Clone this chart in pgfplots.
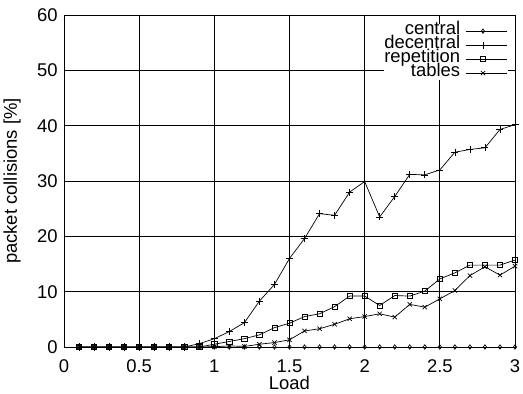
\documentclass[border=0pt]{standalone}
\usepackage{pgfplots}
\usepackage{pgfplotstable}
\pgfplotsset{compat=1.18}
\usepackage{fontspec}
\setmainfont{Liberation Sans}
\pgfplotstableread{
x    c   d     r     t
0.1  0   0     0     0
0.2  0   0     0     0
0.3  0   0     0     0
0.4  0   0     0     0
0.5  0   0     0     0
0.6  0   0     0     0
0.7  0   0     0     0
0.8  0   0     0     0
0.9  0   0.6   0     0
1.0  0   1.5   0.5   0.05
1.1  0   2.8   1.0   0.2
1.2  0   4.4   1.5   0.1
1.3  0   8.3   2.2   0.5
1.4  0   11.3  3.5   0.8
1.5  0   16.0  4.3   1.3
1.6  0   19.6  5.5   2.9
1.7  0   24.1  6.0   3.3
1.8  0   23.8  7.3   4.1
1.9  0   28.0  9.2   5.1
2.0  0   29.9  9.2   5.5
2.1  0   23.5  7.5   6.0
2.2  0   27.2  9.3   5.4
2.3  0   31.2  9.2   7.7
2.4  0   31.1  10.1  7.2
2.5  0   32.0  12.3  8.7
2.6  0   35.2  13.4  10.2
2.7  0   35.7  14.8  12.9
2.8  0   36.0  14.8  14.5
2.9  0   39.3  14.8  13.0
3.0  0   40.2  15.7  14.6
}\data
\begin{document}
\fontsize{18.5}{20}\selectfont
\begin{tikzpicture}
\useasboundingbox (-64bp,-47bp) rectangle (459bp,347bp);
\begin{axis}[
  scale only axis,
  width=451bp, height=332bp,
  xmin=0, xmax=3, ymin=0, ymax=60,
  xtick={0,0.5,...,3}, ytick={0,10,...,60},
  xticklabels={0,0.5,1,1.5,2,2.5,3},
  grid=major,
  major grid style={black, line width=0.9bp},
  axis line style={black, line width=0.9bp},
  tick style={black, line width=0.9bp},
  tick align=inside,
  /pgf/number format/assume math mode=true,
  ticklabel style={font=\fontsize{18.5}{20}\selectfont},
  xticklabel style={yshift=-6bp},
  label style={font=\fontsize{18.5}{20}\selectfont},
  xlabel={Load},
  ylabel={packet collisions [\%]},
  xlabel style={at={([yshift=-36bp]axis description cs:0.5,0)}, anchor=center},
  ylabel style={at={([xshift=-52bp]axis description cs:0,0.5)}, anchor=center},
  legend plot pos=right,
  legend cell align=right,
  legend style={at={(rel axis cs:0.9845,0.973)}, anchor=north east, draw=none, fill=white,
    font=\fontsize{18.5}{20}\selectfont, row sep=0pt, column sep=6bp, inner sep=0pt,
    nodes={inner sep=0pt, text height=10.5bp, text depth=3.5bp}},
  legend image code/.code={\path (0bp,0bp) -- (41bp,0bp);\draw[mark repeat=2,mark phase=2] plot coordinates {(0bp,0bp) (16.5bp,0bp) (33bp,0bp)};},
  every axis plot/.append style={black, line width=0.7bp, mark options={solid, line width=0.7bp}},
]
\addplot[mark=diamond, mark size=2.2bp] table[x=x,y=c]{\data};
\addplot[mark=+, mark size=3.5bp] table[x=x,y=d]{\data};
\addplot[mark=square, mark size=2.6bp] table[x=x,y=r]{\data};
\addplot[mark=x, mark size=3bp] table[x=x,y=t]{\data};
\legend{central,decentral,repetition,tables}
\end{axis}
\end{tikzpicture}
\end{document}
